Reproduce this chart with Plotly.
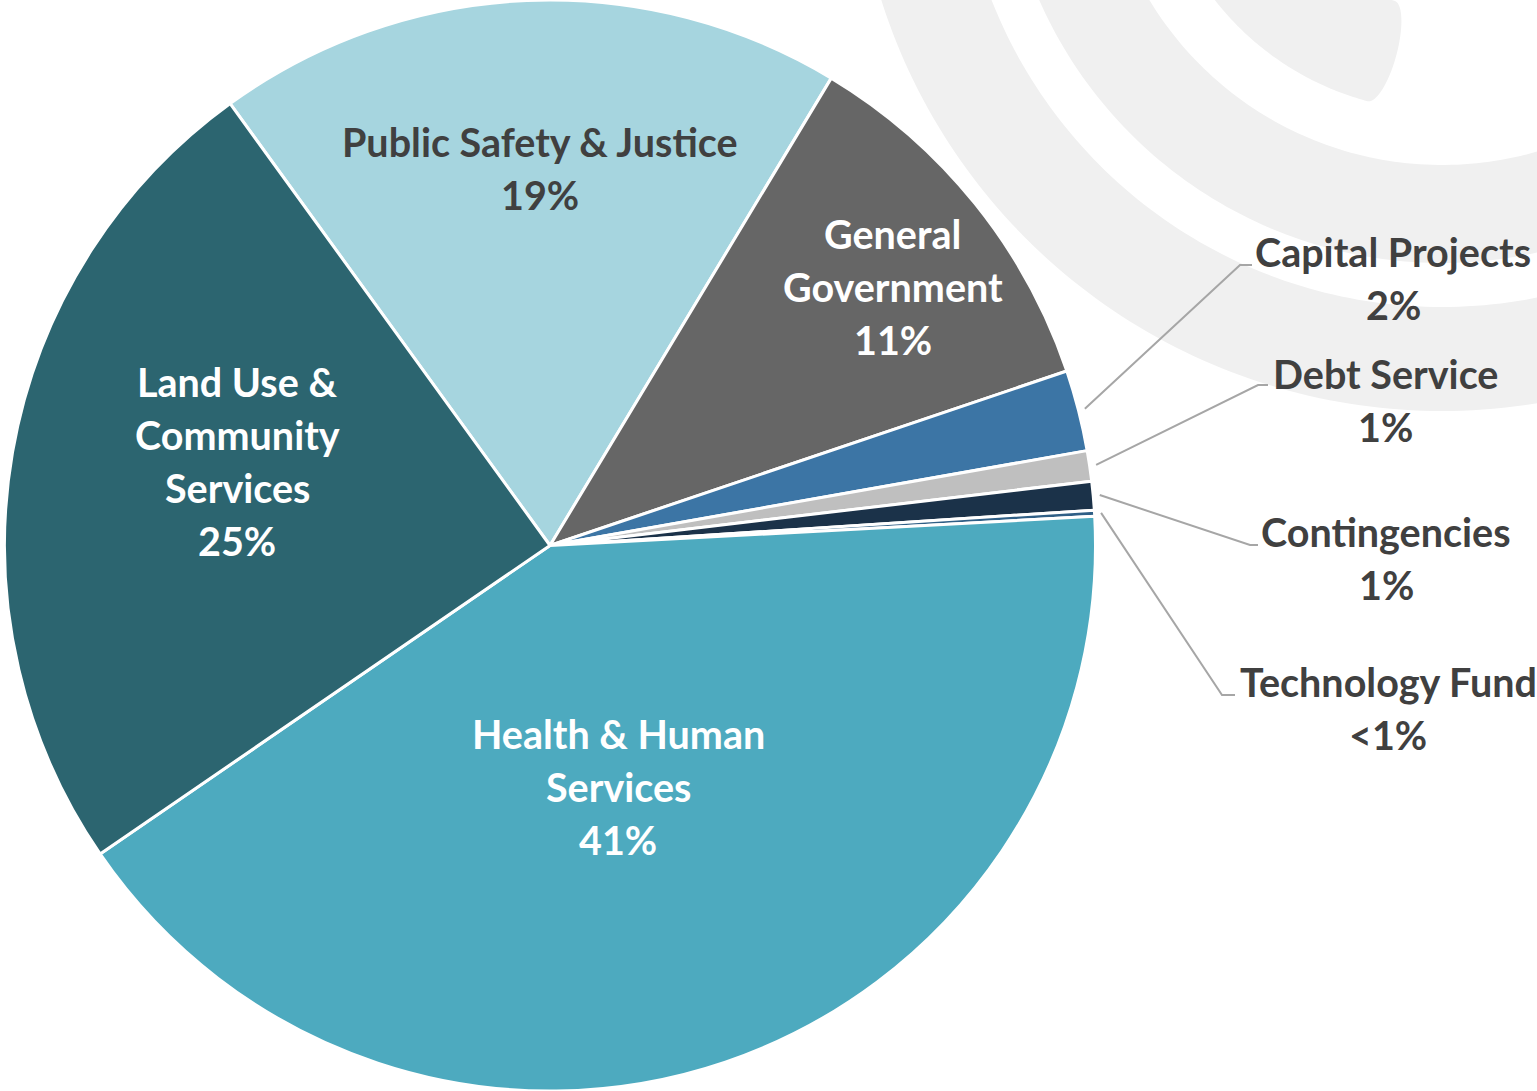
import math
import plotly.graph_objects as go

W, H = 1537, 1091

# slices, clockwise from the top-left edge of Public Safety
categories = ["Public Safety & Justice", "General Government", "Capital Projects",
              "Debt Service", "Contingencies", "Technology Fund",
              "Health & Human Services", "Land Use & Community Services"]
shares = [18.6, 11.2, 2.4, 0.9, 0.85, 0.18, 41.3, 24.6]
label_lines = [["Public Safety & Justice"], ["General", "Government"], ["Capital Projects"],
               ["Debt Service"], ["Contingencies"], ["Technology Fund"],
               ["Health & Human", "Services"], ["Land Use &", "Community", "Services"]]

# styling
colors = ["#A6D5DF", "#666666", "#3C75A5", "#BFBFBF", "#1B3249", "#2F5F86", "#4DAABF", "#2C6570"]
text_colors = ["#404040", "#FFFFFF", "#404040", "#404040", "#404040", "#404040", "#FFFFFF", "#FFFFFF"]
label_xy = [(540, 168), (893, 286), (1393, 278), (1385, 400), (1386, 558), (1388, 708), (618, 786), (237, 461)]
# elbow of leader line and where its short horizontal tail ends (px)
elbows = [None, None, (1240, 265, 1252), (1258, 385, 1268), (1250, 545, 1258), (1222, 695, 1235), None, None]
ROTATION = -35.9
LINE_H = 53
FONT = "Lato"
FONT_SIZE = 39.5
DECO = "#F0F0F0"

PIE_W = 1100
cx, cy = PIE_W / 2, H / 2
R = min(PIE_W, H) / 2


def px(x, y):
    return x / W, 1 - y / H


def pct_text(v, total):
    p = v / total * 100
    return "<1%" if p < 0.5 else f"{round(p)}%"


def path_from_points(points):
    pts = [px(x, y) for x, y in points]
    return "M " + " L ".join(f"{a:.5f},{b:.5f}" for a, b in pts) + " Z"


def band_points(ccx, ccy, r_in, r_out, a0, a1, n=160, cap=0):
    # angle measured from straight down, positive toward the left
    def pt(a, r):
        t = math.radians(a)
        return ccx - r * math.sin(t), ccy + r * math.cos(t)
    outer = [pt(a0 + (a1 - a0) * i / n, r_out) for i in range(n + 1)]
    inner = [pt(a1 - (a1 - a0) * i / n, r_in) for i in range(n + 1)]
    pts = outer + inner
    if cap:
        # rounded end at a0, bulging past the end of the band
        t = math.radians(a0)
        mid_r = (r_in + r_out) / 2
        half = (r_out - r_in) / 2
        mx, my = pt(a0, mid_r)
        ux, uy = -math.sin(t), math.cos(t)      # radial direction
        tx, ty = math.cos(t), math.sin(t)       # direction of decreasing angle
        for i in range(1, 40):
            s = math.pi * i / 40
            pts.append((mx - half * math.cos(s) * ux + cap * math.sin(s) * tx,
                        my - half * math.cos(s) * uy + cap * math.sin(s) * ty))
    return pts


fig = go.Figure()

fig.add_trace(go.Pie(
    labels=categories,
    values=shares,
    sort=False,
    direction="clockwise",
    rotation=ROTATION,
    marker=dict(colors=colors, line=dict(color="white", width=3)),
    textinfo="none",
    hoverinfo="label+percent",
    domain=dict(x=[0, PIE_W / W], y=[0, 1]),
    showlegend=False,
))

# decorative rings in the background, top right
shapes = []
dcx, dcy = 1442, -177
for r_in, r_out, a0, a1, cap in [(484, 588, -60, 100, 0), (342, 440, -60, 110, 0), (184, 288, 15, 110, 16)]:
    shapes.append(dict(type="path", xref="paper", yref="paper", layer="below",
                       path=path_from_points(band_points(dcx, dcy, r_in, r_out, a0, a1, cap=cap)),
                       fillcolor=DECO, line=dict(width=0)))

total = sum(shares)
annotations = []
cum = 0
for i, v in enumerate(shares):
    mid = math.radians(ROTATION + 360 * (cum + v / 2) / total)
    cum += v
    lines = label_lines[i] + [pct_text(v, total)]
    lx, ly = label_xy[i]
    n = len(lines)
    for k, line in enumerate(lines):
        yy = ly + (k - (n - 1) / 2) * LINE_H
        x, y = px(lx, yy)
        annotations.append(dict(text=line, x=x, y=y, xref="paper", yref="paper",
                                xanchor="center", yanchor="middle", showarrow=False,
                                font=dict(family=FONT, size=FONT_SIZE, color=text_colors[i], weight=700)))
    if elbows[i]:
        ex, ey, tx = elbows[i]
        sx, sy = cx + R * 1.012 * math.sin(mid), cy - R * 1.012 * math.cos(mid)
        p = [px(sx, sy), px(ex, ey), px(tx, ey)]
        shapes.append(dict(type="path", xref="paper", yref="paper", layer="above",
                           path="M " + " L ".join(f"{a:.5f},{b:.5f}" for a, b in p),
                           line=dict(color="#A6A6A6", width=2)))

fig.update_layout(
    width=W, height=H,
    margin=dict(l=0, r=0, t=0, b=0),
    paper_bgcolor="white",
    plot_bgcolor="white",
    shapes=shapes,
    annotations=annotations,
)

fig.write_html("out.html", config={"displayModeBar": False},
               post_script="document.body.style.margin='0';")
